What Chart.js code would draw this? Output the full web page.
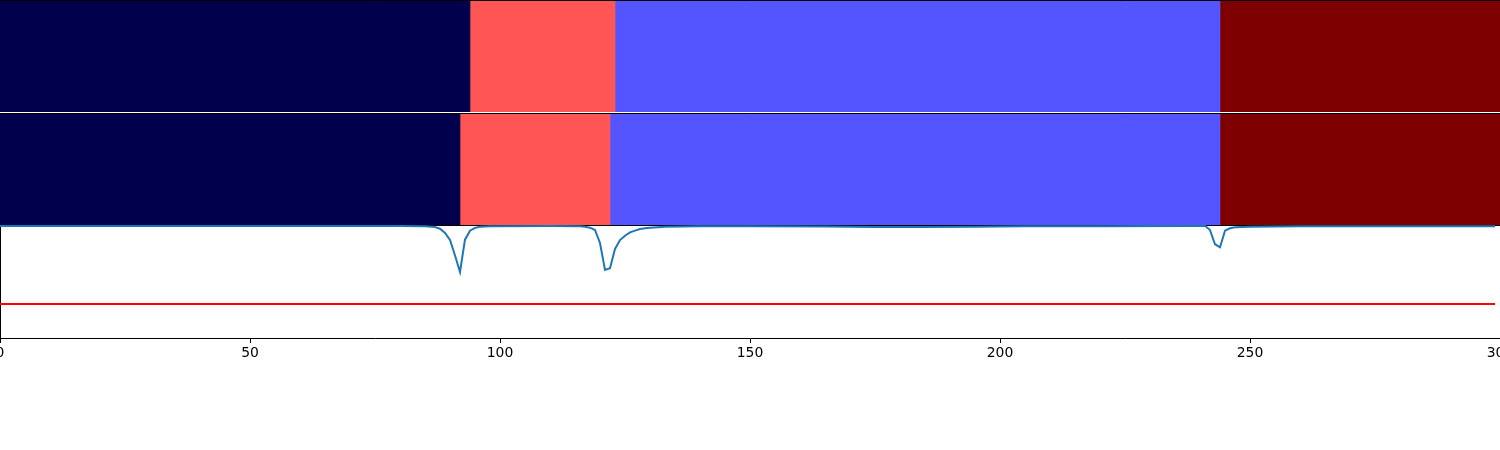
<!DOCTYPE html>
<html>
<head>
<meta charset="utf-8">
<script src="https://cdn.jsdelivr.net/npm/chart.js@4.4.1/dist/chart.umd.min.js"></script>
<style>
  html, body { margin: 0; padding: 0; background: #fff; overflow: hidden; }
  #wrap { position: relative; width: 1500px; height: 450px; overflow: hidden; background: #fff; }
  canvas { position: absolute; left: -50px; }
</style>
</head>
<body>
<div id="wrap">
  <canvas id="c1" width="1600" height="112" style="top:0px;width:1600px;height:112px"></canvas>
  <canvas id="c2" width="1600" height="113" style="top:113px;width:1600px;height:113px"></canvas>
  <canvas id="c3" width="1600" height="225" style="top:225px;width:1600px;height:225px"></canvas>
</div>
<script>
// ---- data ----
const stateColors = ['#00004c', '#5555ff', '#ff5555', '#7f0000'];
const topBounds = [0, 94, 123, 244, 300];
const topStates = [0, 2, 1, 3];
const midBounds = [0, 92, 122, 244, 300];
const midStates = [0, 2, 1, 3];

const lineX = [0, 20, 40, 60, 80, 85, 87, 88, 89, 90, 91, 92, 93, 94, 95, 96, 98, 100,
  110, 116, 117, 118, 119, 120, 121, 122, 123, 124, 125, 126, 127, 128, 129, 130, 133,
  140, 150, 165, 175, 185, 195, 205, 220, 238,
  241, 242, 243, 244, 245, 246, 247, 250, 260, 280, 299];
const lineY = [0.991, 0.991, 0.991, 0.991, 0.991, 0.989, 0.982, 0.967, 0.93, 0.867, 0.73, 0.584, 0.87, 0.95, 0.975, 0.985, 0.989, 0.99,
  0.991, 0.989, 0.985, 0.976, 0.956, 0.841, 0.602, 0.617, 0.788, 0.867, 0.905, 0.935, 0.95, 0.965, 0.971, 0.976, 0.985,
  0.988, 0.989, 0.987, 0.983, 0.982, 0.984, 0.988, 0.99, 0.992,
  0.993, 0.956, 0.83, 0.803, 0.95, 0.971, 0.98, 0.985, 0.988, 0.99, 0.99];

const thresholdX = [0, 299];
const thresholdValue = 0.30;

const xMin = 0, xMax = 300, xStep = 50;

// ---- helpers ----
const font = { family: 'DejaVu Sans', size: 13.9 };
const hiddenBorderAxis = (position, extra) => Object.assign({
  type: 'linear', axis: 'x', position, min: xMin, max: xMax, display: true, z: 1,
  ticks: { display: false },
  grid: { display: false, drawTicks: false },
  border: { display: true, color: '#000', width: 1, z: 1 }
}, extra || {});

function barDatasets(bounds, states) {
  return states.map((s, i) => ({
    data: [[bounds[i], bounds[i + 1]]],
    backgroundColor: stateColors[s],
    borderWidth: 0,
    barPercentage: 1,
    categoryPercentage: 1,
    grouped: false
  }));
}

const common = {
  responsive: false,
  animation: false,
  devicePixelRatio: 1,
  plugins: { legend: { display: false }, tooltip: { enabled: false } },
  layout: { padding: { left: 50, right: 50, top: 0, bottom: 0 } }
};

// Panel 1
new Chart(document.getElementById('c1'), {
  type: 'bar',
  data: { labels: ['row1'], datasets: barDatasets(topBounds, topStates) },
  options: Object.assign({}, common, {
    indexAxis: 'y',
    scales: {
      x: hiddenBorderAxis('top'),
      y: { display: false }
    }
  })
});

// Panel 2
new Chart(document.getElementById('c2'), {
  type: 'bar',
  data: { labels: ['row2'], datasets: barDatasets(midBounds, midStates) },
  options: Object.assign({}, common, {
    indexAxis: 'y',
    scales: {
      x: hiddenBorderAxis('top'),
      x2: hiddenBorderAxis('bottom', { afterFit: s => { s.height = 1; } }),
      y: { display: false }
    }
  })
});

// Panel 3
new Chart(document.getElementById('c3'), {
  type: 'scatter',
  data: {
    datasets: [
      {
        data: lineX.map((x, i) => ({ x, y: lineY[i] })),
        showLine: true, borderColor: '#1f77b4', borderWidth: 2,
        pointRadius: 0, tension: 0
      },
      {
        data: thresholdX.map(x => ({ x, y: thresholdValue })),
        showLine: true, borderColor: '#ff0000', borderWidth: 2,
        pointRadius: 0, tension: 0
      }
    ]
  },
  options: Object.assign({}, common, {
    scales: {
      x: {
        type: 'linear', position: 'bottom', min: xMin, max: xMax,
        afterFit: s => { s.height = 112; },
        ticks: { stepSize: xStep, color: '#000', font, padding: 2, maxRotation: 0, autoSkip: false },
        grid: { display: true, drawOnChartArea: false, drawTicks: true, tickLength: 5, color: '#000', lineWidth: 1 },
        border: { display: true, color: '#000', width: 1 }
      },
      y: {
        type: 'linear', position: 'left', min: 0, max: 1,
        ticks: { display: false },
        grid: { display: false, drawTicks: false },
        border: { display: true, color: '#000', width: 1 }
      }
    }
  })
});
</script>
</body>
</html>
